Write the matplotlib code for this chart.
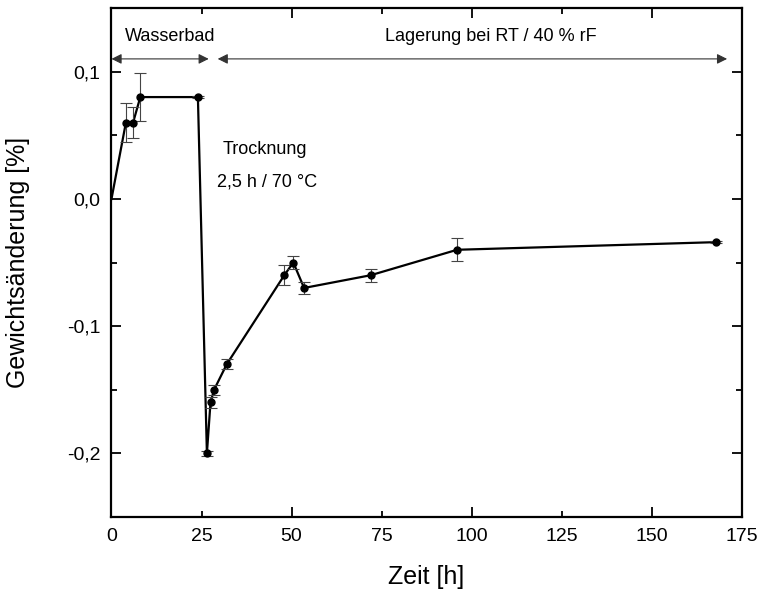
import numpy as np
import matplotlib.pyplot as plt
from matplotlib.ticker import FixedLocator, MultipleLocator

plt.rcParams['font.family'] = ['Liberation Sans', 'DejaVu Sans']

# Messwerte
zeit = [0, 4, 6, 8, 24, 26.5, 27.5, 28.5, 32, 48, 50.5, 53.5, 72, 96, 168]
aenderung = [0, 0.06, 0.06, 0.08, 0.08, -0.2, -0.16, -0.15, -0.13,
             -0.06, -0.05, -0.07, -0.06, -0.04, -0.034]
fehler = [0, 0.015, 0.012, 0.019, 0.001, 0.002, 0.004, 0.004, 0.004,
          0.008, 0.0055, 0.005, 0.005, 0.009, 0.001]

x_major = [0, 50, 100, 150]
x_minor = [25, 75, 125, 175]
y_ticks = [-0.2, -0.1, 0.0, 0.1]
y_labels = ['-0,2', '-0,1', '0,0', '0,1']

fig = plt.figure(figsize=(7.61, 5.92), dpi=100)
ax = fig.add_axes([111.5 / 761, 1 - 517 / 592, 630 / 761, 509 / 592])

ax.plot(zeit, aenderung, color='black', lw=1.6, zorder=2)
ax.errorbar(zeit[1:], aenderung[1:], yerr=fehler[1:], fmt='o', color='black',
            ms=5, ecolor='#444444', elinewidth=0.8, capsize=4, capthick=0.8, zorder=3)

# Bereiche
ax.annotate('', xy=(0, 0.11), xytext=(27, 0.11),
            arrowprops=dict(arrowstyle='<|-|>', color='#333333', lw=0.8,
                            mutation_scale=15, shrinkA=0, shrinkB=0))
ax.annotate('', xy=(29.5, 0.11), xytext=(171, 0.11),
            arrowprops=dict(arrowstyle='<|-|>', color='#333333', lw=0.8,
                            mutation_scale=15, shrinkA=0, shrinkB=0))
ax.text(3.8, 0.1275, 'Wasserbad', fontsize=13, va='center')
ax.text(76, 0.1275, 'Lagerung bei RT / 40 % rF', fontsize=13, va='center')
ax.text(31, 0.0385, 'Trocknung', fontsize=13, va='center')
ax.text(29.3, 0.0135, '2,5 h / 70 °C', fontsize=13, va='center')

ax.set_xlim(0, 175)
ax.set_ylim(-0.25, 0.15)
ax.xaxis.set_major_locator(FixedLocator(x_major))
ax.set_xticklabels([str(t) for t in x_major])
ax.xaxis.set_minor_locator(FixedLocator(x_minor))
ax.set_xticklabels([str(t) for t in x_minor], minor=True)
ax.yaxis.set_major_locator(FixedLocator(y_ticks))
ax.set_yticklabels(y_labels)
ax.yaxis.set_minor_locator(MultipleLocator(0.05))

ax.tick_params(which='both', direction='in', top=True, right=True, width=1.3,
               labelsize=14, pad=8)
ax.tick_params(which='major', length=7)
ax.tick_params(which='minor', length=4)
for sp in ax.spines.values():
    sp.set_linewidth(1.6)

ax.set_xlabel('Zeit [h]', fontsize=18)
ax.set_ylabel('Gewichtsänderung [%]', fontsize=18)
ax.xaxis.set_label_coords(0.5, -0.095)
ax.yaxis.set_label_coords(-0.13, 0.5)

fig.savefig('out.png', dpi=100)
